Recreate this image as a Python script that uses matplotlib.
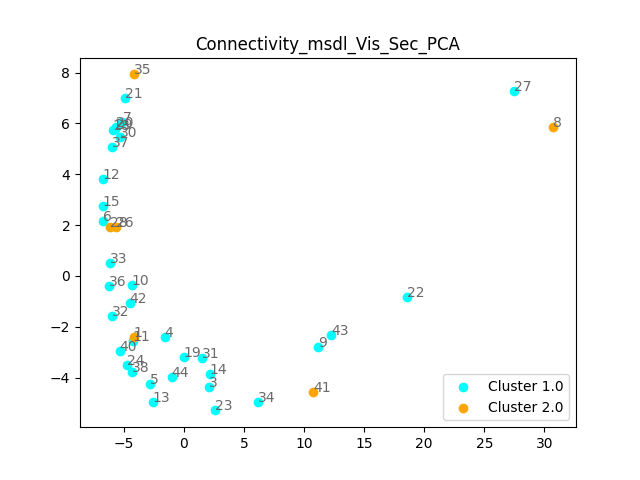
import matplotlib
matplotlib.use("Agg")
import matplotlib.pyplot as plt

labels = ["35", "21", "7", "18", "20", "29", "30", "37", "12", "15", "6", "28", "26",
          "33", "36", "10", "42", "32", "1", "11", "4", "40", "24", "38", "5", "13",
          "44", "19", "31", "14", "3", "23", "34", "41", "9", "43", "22", "27", "8"]
xs = [-4.17, -4.9, -5.1, -5.9, -5.6, -5.75, -5.3, -6.0, -6.75, -6.75, -6.75, -6.1, -5.6,
      -6.17, -6.25, -4.33, -4.5, -6.0, -4.17, -4.25, -1.58, -5.33, -4.75, -4.33, -2.83, -2.58,
      -1.0, 0.0, 1.5, 2.17, 2.08, 2.58, 6.17, 10.75, 11.17, 12.25, 18.58, 27.5, 30.75]
ys = [7.93, 7.0, 6.05, 5.73, 5.85, 5.78, 5.45, 5.06, 3.83, 2.77, 2.17, 1.94, 1.94,
      0.51, -0.4, -0.36, -1.07, -1.58, -2.41, -2.57, -2.41, -2.96, -3.52, -3.79, -4.27, -4.94,
      -3.99, -3.2, -3.24, -3.87, -4.35, -5.29, -4.94, -4.58, -2.8, -2.33, -0.83, 7.27, 5.85]
clusters = [2, 1, 1, 1, 1, 1, 1, 1, 1, 1, 1, 2, 2,
            1, 1, 1, 1, 1, 2, 1, 1, 1, 1, 1, 1, 1,
            1, 1, 1, 1, 1, 1, 1, 2, 1, 1, 1, 1, 2]
cluster_names = [1.0, 2.0]
cluster_colors = {1.0: "cyan", 2.0: "orange"}

fig, ax = plt.subplots(figsize=(6.4, 4.8), dpi=100)
for c in cluster_names:
    cx = [x for x, k in zip(xs, clusters) if k == c]
    cy = [y for y, k in zip(ys, clusters) if k == c]
    ax.scatter(cx, cy, color=cluster_colors[c], label=f"Cluster {c}")
for x, y, t in zip(xs, ys, labels):
    ax.text(x, y, t, color="dimgray", fontsize=10)
ax.set_title("Connectivity_msdl_Vis_Sec_PCA")
ax.legend(loc="lower right")
fig.savefig("out.png")
